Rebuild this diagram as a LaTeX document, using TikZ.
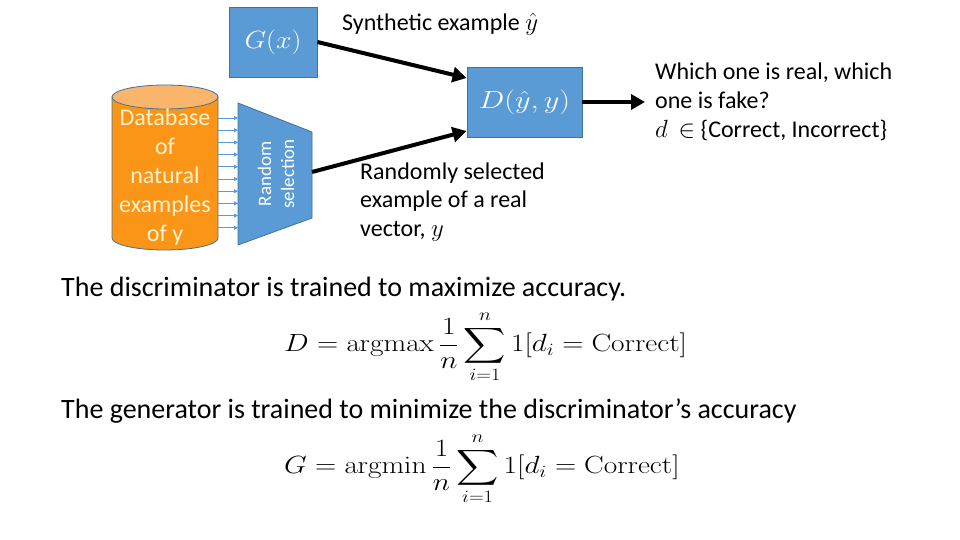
\documentclass[tikz,border=0pt]{standalone}
\usepackage{amsmath}
\usepackage{graphicx}
\usepackage[no-math]{fontspec}
\setmainfont{Carlito}
\usetikzlibrary{arrows.meta}
\definecolor{boxblue}{HTML}{5B9BD5}
\definecolor{boxedge}{HTML}{41719C}
\definecolor{cylorange}{HTML}{FB9518}
\definecolor{cyltop}{HTML}{F9B56B}
\definecolor{cyltext}{HTML}{FFF2CC}
\tikzset{
  blockbox/.style={fill=boxblue, draw=boxedge, line width=0.8pt, text=white, inner sep=0pt},
  bigarrow/.style={line width=4pt, -{Triangle[length=14pt,width=15pt]}},
  smallarrow/.style={draw=boxblue, line width=0.9pt, -{Triangle[length=4pt,width=4pt]}},
  bodytext/.style={font=\fontsize{24}{28.8}\selectfont, inner sep=0pt, align=left},
  bigtext/.style={font=\fontsize{28}{30}\selectfont, inner sep=0pt, anchor=west},
  eqtext/.style={font=\fontsize{27}{30}\selectfont, inner sep=0pt, anchor=west},
}
\begin{document}
\begin{tikzpicture}[x=1pt,y=-1pt]
\useasboundingbox (0,0) rectangle (960,540);

% generator and discriminator boxes
\node[blockbox, minimum width=88pt, minimum height=70pt, font=\fontsize{32}{34}\selectfont] (G) at (273,42) {\scalebox{1.12}[1]{$G(x)$}};
\node[blockbox, minimum width=115pt, minimum height=70pt, font=\fontsize{32}{34}\selectfont] (D) at (524.5,102) {\scalebox{1.22}[1]{$D(\hat{y},y)$}};

% database cylinder
\path[fill=cylorange, draw=boxedge, line width=0.8pt] (112,97) -- (112,238)
  arc[start angle=180, end angle=360, x radius=53pt, y radius=12pt] -- (218,97) -- cycle;
\draw[fill=cyltop, draw=boxedge, line width=0.8pt] (165,97) ellipse [x radius=53pt, y radius=12pt];
\node[text=cyltext, align=center, inner sep=0pt, font=\fontsize{24}{29}\selectfont] (db) at (165,177)
  {Database\\of\\natural\\examples\\of y};

% small arrows into random selection
\foreach \i in {0,...,9} {
  \draw[smallarrow] (218,{118+12.2*\i}) -- (238,{118+12.2*\i});
}

% random selection trapezoid
\draw[fill=boxblue, draw=boxedge, line width=0.8pt] (238,103) -- (312,132) -- (312,218) -- (238,245) -- cycle;
\coordinate (R) at (312,172);
\node[rotate=90, text=white, align=center, inner sep=0pt, font=\fontsize{19}{23}\selectfont] (rs) at (276,174) {Random\\selection};

% labels
\node[bodytext, anchor=west] (synth) at (342,24) {Synthetic example $\hat{y}$};
\node[bodytext, anchor=west] (rand) at (360,202) {Randomly selected\\example of a real\\vector, $y$};
\node[bodytext, anchor=west] (ans) at (655,102) {Which one is real, which\\one is fake?\\$d$\ \ $\in$ \{Correct, Incorrect\}};

% connectors
\draw[bigarrow] (G.east) -- ([yshift=24pt]D.west);
\draw[bigarrow] (R) -- ([yshift=-29pt]D.west);
\draw[bigarrow] (D.east) -- ([xshift=-10pt]ans.west);

% bottom text
\node[bigtext] (t1) at (61,289) {The discriminator is trained to maximize accuracy.};
\node[eqtext] (e1) at (284,347) {\scalebox{1.18}[1]{$\displaystyle D = \operatorname{argmax} \frac{1}{n}\sum_{i=1}^{n} 1[d_i = \mathrm{Correct}]$}};
\node[bigtext] (t2) at (61,411) {The generator is trained to minimize the discriminator’s accuracy};
\node[eqtext] (e2) at (284,469) {\scalebox{1.18}[1]{$\displaystyle G = \operatorname{argmin} \frac{1}{n}\sum_{i=1}^{n} 1[d_i = \mathrm{Correct}]$}};
\end{tikzpicture}
\end{document}
